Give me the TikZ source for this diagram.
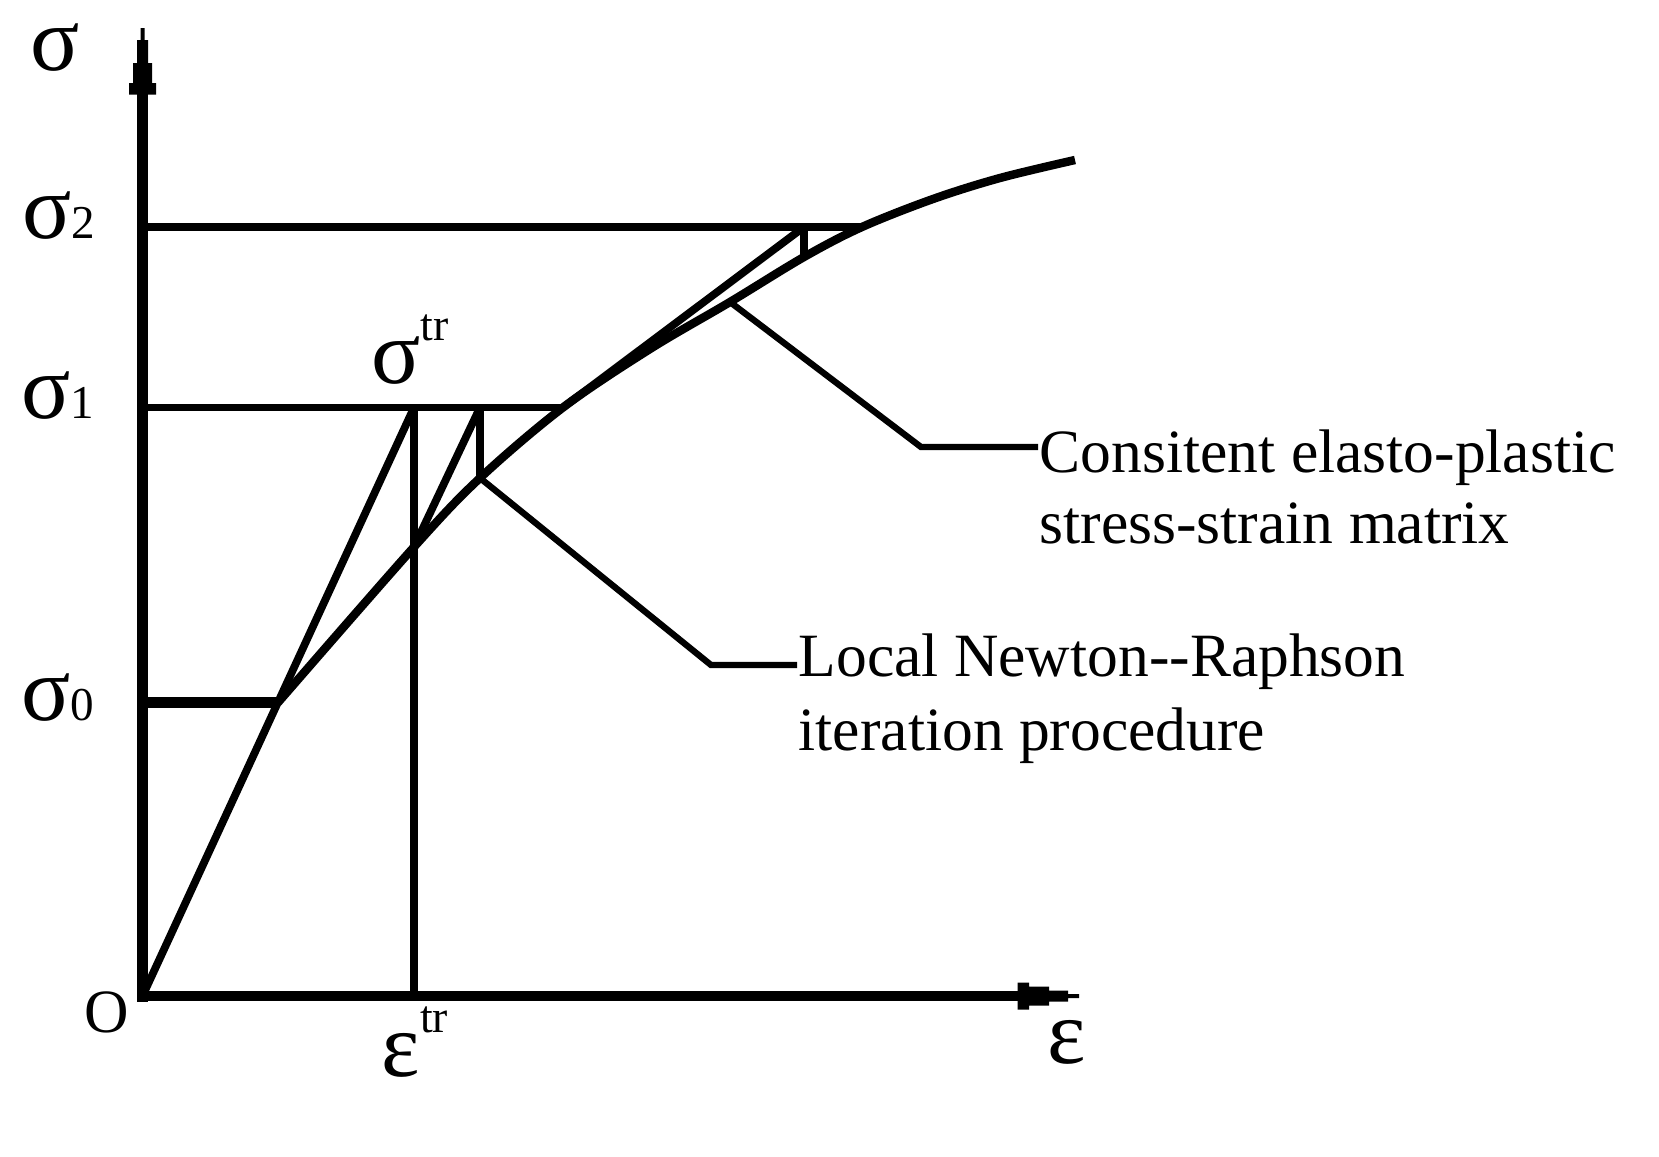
\documentclass[tikz,border=0pt]{standalone}
\usepackage{fontspec}
\setmainfont{Liberation Serif}
\newcommand\subsz{\fontsize{13.4}{14}\selectfont}
\newcommand\supsz{\fontsize{13}{14}\selectfont}
\begin{document}
\begin{tikzpicture}[x=0.01cm,y=-0.01cm,
  axis/.style={line width=3.1pt},
  ln/.style={line width=2.2pt},
  crv/.style={line width=2.4pt},
  thk/.style={line width=3.1pt},
  leader/.style={line width=1.8pt},
  txt/.style={inner sep=0pt, anchor=base west, font=\fontsize{17.5}{20}\selectfont},
  grk/.style={inner sep=0pt, anchor=base west, font=\fontsize{26}{28}\selectfont},
  head/.style={fill=black, draw=none}]
\useasboundingbox (0,0) rectangle (1659,1157);
% key points
\coordinate (O) at (142.5,996);
\coordinate (ybot) at (142.5,1001.5);
\coordinate (ytop) at (142.5,94);
\coordinate (xleft) at (137,996);
\coordinate (xend) at (1018,996);
\coordinate (a0) at (142.5,702.5);
\coordinate (a1) at (142.5,407.5);
\coordinate (a2) at (142.5,227);
\coordinate (p0) at (278,702.5);
\coordinate (ptr) at (414,407.5);
\coordinate (etr) at (414,996);
\coordinate (q1) at (414,547);
\coordinate (t2) at (480,407.5);
\coordinate (c1) at (480,478);
\coordinate (s1c) at (563,407.5);
\coordinate (u2) at (804,227);
\coordinate (c2) at (804,257);
\coordinate (s2c) at (862,227);
\coordinate (cc) at (730,302);
\coordinate (lc) at (921,447);
\coordinate (lce) at (1038,447);
\coordinate (ll) at (711,665);
\coordinate (lle) at (797,665);
% axes
\draw[axis] (ybot) -- (ytop);
\draw[axis] (xleft) -- (xend);
\fill[head] (140.5,28) -- (144.5,28) -- (144.5,40) -- (148,40) -- (148,63) -- (152,63) -- (152,83) -- (156,83) -- (156,94.5) -- (129,94.5) -- (129,83) -- (133,83) -- (133,63) -- (137,63) -- (137,40) -- (140.5,40) -- cycle;
\fill[head] (1017.5,982.5) -- (1029,982.5) -- (1029,986.5) -- (1049,986.5) -- (1049,990.5) -- (1068,990.5) -- (1068,994) -- (1079,994) -- (1079,998) -- (1068,998) -- (1068,1001.5) -- (1049,1001.5) -- (1049,1005.5) -- (1029,1005.5) -- (1029,1009.5) -- (1017.5,1009.5) -- cycle;
% stress levels
\draw[thk] (a0) -- (p0);
\draw[ln] (a1) -- (s1c);
\draw[ln] (a2) -- (s2c);
% elastic trial line and strain line
\draw[ln] (O) -- (ptr);
\draw[ln] (ptr) -- (etr);
% stress-strain curve
\draw[crv] plot[smooth, tension=0.55] coordinates {(278,702.5) (414,547) (480,478) (563,407.5) (650,349) (730,302) (804,257) (862,227) (933,199) (1000,178) (1075,160)};
% iterations
\draw[ln] (q1) -- (t2);
\draw[ln] (t2) -- (c1);
\draw[ln] (s1c) -- (u2);
\draw[ln] (u2) -- (c2);
% leaders
\draw[leader] (cc) -- (lc) -- (lce);
\draw[leader] (c1) -- (ll) -- (lle);
% labels
\node[grk] (lsig) at (30,70) {σ};
\node[grk] (ls2) at (22,238) {σ{\subsz 2}};
\node[grk] (ls1) at (21,418) {σ{\subsz 1}};
\node[grk] (ls0) at (21,720) {σ{\subsz 0}};
\node[grk] (lstr) at (371,383) {σ\raisebox{0.42cm}{\supsz tr}};
\node[txt] (lO) at (84,1032) {O};
\node[grk] (leps) at (1047,1063) {ε};
\node[grk] (letr) at (381,1076) {ε\raisebox{0.43cm}{\supsz tr}};
\node[txt] (t1a) at (1039,472) {Consitent elasto-plastic};
\node[txt] (t1b) at (1039,543) {stress-strain matrix};
\node[txt] (t2a) at (798,676) {Local Newton-{}-Raphson};
\node[txt] (t2b) at (798,750) {iteration procedure};
\end{tikzpicture}
\end{document}
